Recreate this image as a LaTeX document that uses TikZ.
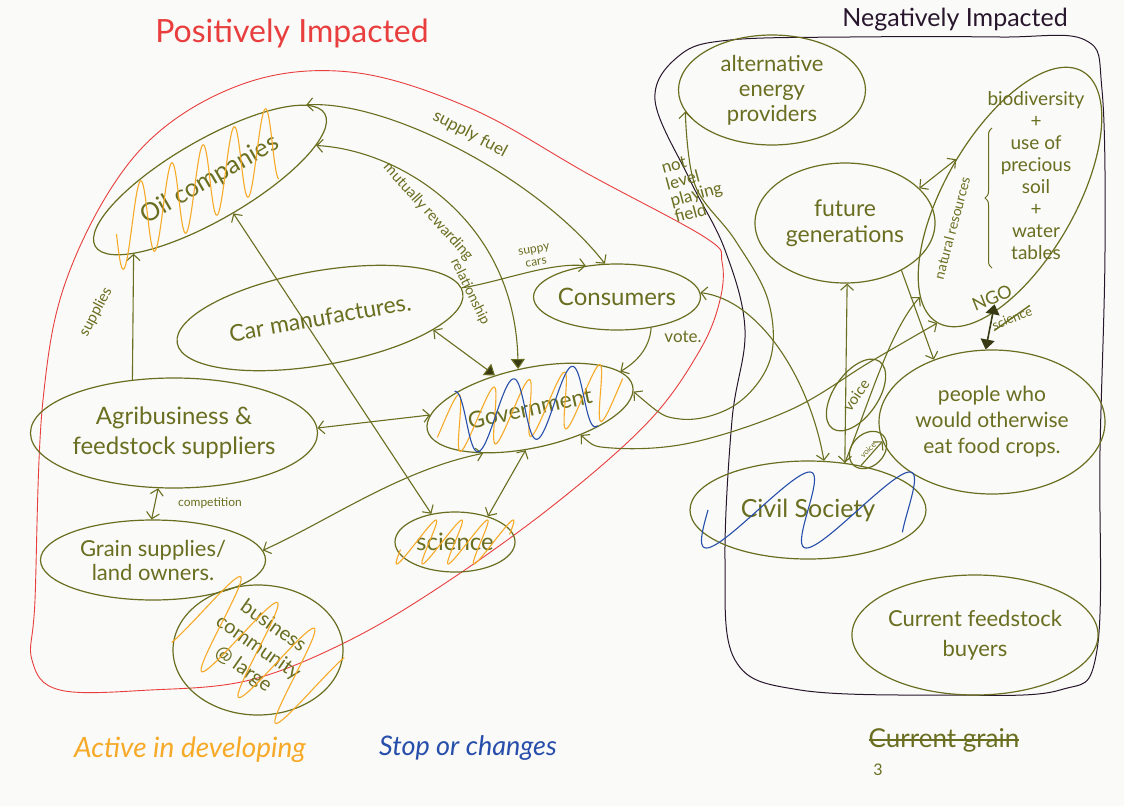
\documentclass[tikz,border=0pt]{standalone}
\usepackage{fontspec}
\setmainfont{Lato}
\usetikzlibrary{shapes.geometric,arrows.meta,decorations.pathreplacing}

\definecolor{ink}{RGB}{106,110,32}
\definecolor{darkink}{RGB}{55,58,18}
\definecolor{redpen}{RGB}{232,62,62}
\definecolor{orangepen}{RGB}{247,170,40}
\definecolor{bluepen}{RGB}{38,78,170}
\definecolor{blackpen}{RGB}{40,22,45}
\definecolor{paper}{RGB}{250,250,248}

\tikzset{
  ent/.style={ellipse, draw=ink, line width=1.2pt, text=ink, align=center,
    inner sep=0pt, font=\fontsize{23}{26}\selectfont},
  lbl/.style={text=ink, align=center, inner sep=0pt, font=\fontsize{15}{17}\selectfont},
  link/.style={draw=ink, line width=1.1pt},
  onearrow/.style={-{Straight Barb[length=6pt,width=13pt]}},
  twoarrow/.style={{Straight Barb[length=6pt,width=13pt]}-{Straight Barb[length=6pt,width=13pt]}},
  intogov/.style={{Straight Barb[length=6pt,width=13pt]}-{Triangle[length=10pt,width=14pt,fill=darkink]}},
  heavyboth/.style={draw=darkink, line width=1.6pt,
    {Triangle[length=10pt,width=14pt,fill=darkink]}-{Triangle[length=10pt,width=14pt,fill=darkink]}},
  actv/.style={draw=orangepen, line width=1.1pt},
  stopc/.style={draw=bluepen, line width=1.1pt},
}

\begin{document}
\begin{tikzpicture}[x=1pt,y=-1pt]
\fill[paper] (0,0) rectangle (1124,806);
\useasboundingbox (0,0) rectangle (1124,806);

% group outlines
\draw[redpen, line width=0.9pt] plot[smooth cycle, tension=0.6] coordinates {
  (35,600) (43,400) (70,270) (140,150) (240,85) (350,72) (470,108) (590,175)
  (706,238) (722,262) (720,300) (700,350) (650,420) (560,500) (450,580)
  (350,640) (250,680) (150,690) (60,690) (32,660)};
\draw[blackpen, line width=1pt] plot[smooth cycle, tension=0.6] coordinates {
  (655,100) (680,55) (730,40) (850,37) (1000,37) (1085,40) (1102,90)
  (1105,250) (1100,450) (1097,650) (1060,690) (950,695) (800,690) (735,660)
  (725,560) (732,420) (745,330) (725,250) (690,180)};

% titles
\node[text=redpen, font=\fontsize{32}{34}\selectfont] (postitle) at (292,33) {Positively Impacted};
\node[text=blackpen, font=\fontsize{25}{28}\selectfont] (negtitle) at (955,20) {Negatively Impacted};

% stakeholders, positive side
\node[ent, minimum width=265pt, minimum height=80pt, rotate=30, font=\fontsize{25}{28}\selectfont] (oil) at (210,180) {Oil companies};
\node[ent, minimum width=290pt, minimum height=94pt, rotate=10] (car) at (320,318) {Car manufactures.};
\node[ent, minimum width=150pt, minimum height=66pt, font=\fontsize{24}{26}\selectfont] (cons) at (617,297) {Consumers};
\node[ent, minimum width=210pt, minimum height=80pt, rotate=12] (gov) at (530,408) {Government};
\node[ent, minimum width=270pt, minimum height=110pt, font=\fontsize{24}{30}\selectfont] (agri) at (174,433) {Agribusiness \&\\feedstock suppliers};
\node[ent, minimum width=225pt, minimum height=80pt, font=\fontsize{22}{24}\selectfont] (grain) at (153,560) {Grain supplies/\\land owners.};
\node[ent, minimum width=170pt, minimum height=130pt] (biz) at (258,650) {};
\node[lbl, rotate=-35, font=\fontsize{20}{26}\selectfont] (biztext) at (258,648) {business\\community\\@ large};
\node[ent, minimum width=120pt, minimum height=60pt, font=\fontsize{24}{26}\selectfont] (sci) at (455,542) {science};

% stakeholders, negative side
\node[ent, minimum width=187pt, minimum height=110pt, font=\fontsize{22}{25}\selectfont] (alt) at (772,90) {alternative\\energy\\providers};
\node[ent, minimum width=180pt, minimum height=120pt, font=\fontsize{23}{26}\selectfont] (fut) at (845,223) {future\\generations};
\node[ent, minimum width=290pt, minimum height=130pt, rotate=60] (bio) at (1010,197) {};
\node[lbl, font=\fontsize{19}{22}\selectfont] (biotext) at (1036,176) {biodiversity\\+\\use of\\precious\\soil\\+\\water\\tables};
\node[ent, minimum width=226pt, minimum height=144pt, font=\fontsize{21}{26}\selectfont] (people) at (992,422) {people who\\would otherwise\\eat food crops.};
\node[ent, minimum width=82pt, minimum height=44pt, rotate=55, font=\fontsize{15}{17}\selectfont] (voicea) at (856,395) {voice};
\node[ent, minimum width=42pt, minimum height=32pt, rotate=45, font=\fontsize{8}{9}\selectfont] (voiceb) at (868,450) {voice};
\node[ent, minimum width=236pt, minimum height=98pt, font=\fontsize{25}{28}\selectfont] (civ) at (808,510) {Civil Society};
\node[ent, minimum width=232pt, minimum height=120pt, font=\fontsize{22}{30}\selectfont] (buyers) at (975,635) {Current feedstock\\buyers};

\draw[ink, line width=1pt, decorate, decoration={brace, amplitude=7pt}] (992,268) -- (992,128);

% NGO note with struck-out word
\node[lbl, rotate=22, font=\fontsize{18}{20}\selectfont] (ngo) at (992,298) {NGO};
\node[lbl, rotate=22, font=\fontsize{13}{15}\selectfont] (scistruck) at (1012,318) {science};
\draw[ink, line width=1.4pt] (scistruck.south west) -- (scistruck.north east);

% edge labels
\node[lbl, rotate=-28, font=\fontsize{17}{19}\selectfont] (lfuel) at (470,134) {supply fuel};
\node[lbl, rotate=-48] (lmut) at (428,212) {mutually rewarding};
\node[lbl, rotate=-64, font=\fontsize{14}{16}\selectfont] (lrel) at (470,292) {relationship};
\node[lbl, rotate=10, font=\fontsize{12}{13}\selectfont] (lcars) at (535,256) {suppy\\cars};
\node[lbl, rotate=62] (lsup) at (96,312) {supplies};
\node[lbl, font=\fontsize{12}{13}\selectfont] (lcomp) at (210,503) {competition};
\node[lbl, font=\fontsize{17}{19}\selectfont] (lvote) at (683,337) {vote.};
\node[lbl, rotate=15, align=left, font=\fontsize{17}{17}\selectfont] (lfield) at (694,186) {not\\level\\playing\\field};
\node[lbl, rotate=75, font=\fontsize{14}{16}\selectfont] (lnat) at (952,228) {natural resources};

% connectors
\draw[link, twoarrow] (oil.8) .. controls (390,100) and (540,180) .. (cons.110);
\draw[link, intogov] (oil.-12) .. controls (400,150) and (515,220) .. (gov.95);
\draw[link, onearrow] (car.2) .. controls (500,282) and (550,262) .. (cons.135);
\draw[link, onearrow] (agri.128) -- (oil.194);
\draw[link, twoarrow] (agri.2) -- (gov.172);
\draw[link, twoarrow] (agri.254) -- (grain.92);
\draw[link, twoarrow] (grain.5) .. controls (330,520) and (400,470) .. (gov.212);
\draw[link, twoarrow] (oil.-85) -- (sci.130);
\draw[link, intogov] (car.-16) -- (gov.125);
\draw[link, twoarrow] (gov.-108) -- (sci.38);
\draw[link, onearrow] (cons.-42) .. controls (650,345) and (640,360) .. (gov.10);
\draw[link, twoarrow] (cons.3) .. controls (760,300) and (810,380) .. (civ.72);
\draw[link, twoarrow] plot[smooth, tension=0.6] coordinates {(gov.-3) (680,419) (735,405) (770,360) (768,300) (735,240) (695,185) (alt.194)};
\draw[link, twoarrow] plot[smooth, tension=0.6] coordinates {(gov.-40) (612,448) (690,443) (790,410) (870,362) (bio.180)};
\draw[link, twoarrow] (fut.-88) -- (civ.52);
\draw[link, onearrow] (civ.52) .. controls (870,400) and (890,330) .. (bio.168);
\draw[link, onearrow] (fut.-40) -- (people.133);
\draw[link, twoarrow] (fut.25) -- (bio.85);
\draw[link, onearrow] (civ.40) -- (people.190);
\draw[heavyboth] (ngo.south) -- (people.95);

% colour marks over the actors: loose slanted loops
\begin{scope}[shift={(210,180)}, rotate=30]
  \draw[actv] plot[domain=-108:80, samples=200, smooth] ({\x-0.6*34*sin(\x*10)}, {34*sin(\x*10)});
\end{scope}
\begin{scope}[shift={(530,408)}, rotate=12]
  \draw[actv] plot[domain=-92:92, samples=200, smooth] ({\x-0.5*28*sin(\x*10)}, {28*sin(\x*10)});
  \draw[stopc] plot[domain=-80:72, samples=200, smooth] ({\x-0.3*32*sin(\x*6+30)}, {32*sin(\x*6+30)});
\end{scope}
\begin{scope}[shift={(455,542)}]
  \draw[actv] plot[domain=-50:50, samples=160, smooth] ({\x-0.6*22*sin(\x*14)}, {22*sin(\x*14)});
\end{scope}
\begin{scope}[shift={(258,650)}, rotate=-35]
  \draw[actv] plot[domain=-75:75, samples=160, smooth] (\x, {50*sin(\x*8)});
\end{scope}
\begin{scope}[shift={(808,510)}]
  \draw[stopc] plot[domain=-100:110, samples=160, smooth] ({\x-0.7*38*sin(\x*3.6)}, {38*sin(\x*3.6)});
\end{scope}

% struck-out note
\node[lbl, font=\fontsize{26}{28}\selectfont] (cg) at (944,740) {Current grain};
\draw[ink, line width=2.2pt] (cg.west) -- (cg.east);
\node[lbl, font=\fontsize{16}{18}\selectfont] (cgnum) at (878,770) {3};

% key
\node[text=orangepen, font=\itshape\fontsize{28}{30}\selectfont] (keyact) at (190,750) {Active in developing};
\node[text=bluepen, font=\itshape\fontsize{27}{29}\selectfont] (keystop) at (468,748) {Stop or changes};
\end{tikzpicture}
\end{document}
